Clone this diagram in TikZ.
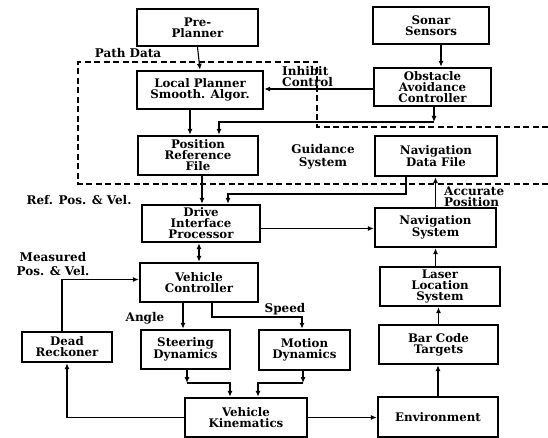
\documentclass[tikz,border=0pt]{standalone}
\usepackage{fontspec}
\setmainfont{DejaVu Serif}
\usetikzlibrary{arrows.meta}
\tikzset{
  box/.style={draw, line width=2.4pt, align=center, inner sep=1pt,
    font=\bfseries\fontsize{11.8}{11}\selectfont},
  lbl/.style={font=\bfseries\fontsize{12}{11}\selectfont, inner sep=0pt},
  arr/.style={line width=1.1pt, -{Latex[length=6pt,width=5pt]}},
  dbl/.style={line width=1.1pt, {Latex[length=6pt,width=5pt]}-{Latex[length=6pt,width=5pt]}},
  region/.style={line width=1.8pt, dash pattern=on 6pt off 3.5pt}
}
\begin{document}
\begin{tikzpicture}[x=1pt,y=-1pt]
\useasboundingbox (0,0) rectangle (548,438);
% boxes
\node[box, minimum width=121pt, minimum height=37pt] (pre) at (197.5,27.5) {Pre-\\Planner};
\node[box, minimum width=116pt, minimum height=37pt] (sonar) at (431,25.5) {Sonar\\Sensors};
\node[box, minimum width=126pt, minimum height=38pt] (lp) at (200,90) {Local Planner\\Smooth. Algor.};
\node[box, minimum width=117pt, minimum height=38pt] (oac) at (432.5,87) {Obstacle\\Avoidance\\Controller};
\node[box, minimum width=120pt, minimum height=39pt] (prf) at (198,155.5) {Position\\Reference\\File};
\node[box, minimum width=122pt, minimum height=40pt] (ndf) at (436,156) {Navigation\\Data File};
\node[box, minimum width=118pt, minimum height=37pt] (dip) at (201,223.5) {Drive\\Interface\\Processor};
\node[box, minimum width=121pt, minimum height=39pt] (ns) at (435.5,227.5) {Navigation\\System};
\node[box, minimum width=118pt, minimum height=39pt] (vc) at (199,282.5) {Vehicle\\Controller};
\node[box, minimum width=90pt, minimum height=30pt] (dr) at (67,347) {Dead\\Reckoner};
\node[box, minimum width=89pt, minimum height=39pt] (sd) at (185.5,349.5) {Steering\\Dynamics};
\node[box, minimum width=91pt, minimum height=40pt] (md) at (304.5,350) {Motion\\Dynamics};
\node[box, minimum width=120pt, minimum height=39pt] (lls) at (440,286.5) {Laser\\Location\\System};
\node[box, minimum width=119pt, minimum height=39pt] (bct) at (438.5,344.5) {Bar Code\\Targets};
\node[box, minimum width=122pt, minimum height=39pt] (vk) at (246,417.5) {Vehicle\\Kinematics};
\node[box, minimum width=120pt, minimum height=40pt] (env) at (438,417) {Environment};
% dashed region
\draw[region] (548,127) -- (317,127) -- (317,62) -- (78,62) -- (78,184) -- (548,184);
% labels
\node[lbl] (lpath) at (128,53) {Path Data};
\node[lbl, align=left, anchor=north west] (linh) at (282,66) {Inhibit\\Control};
\node[lbl, align=center, font=\bfseries\fontsize{12}{13}\selectfont] (lguid) at (323,157) {Guidance\\System};
\node[lbl] (lref) at (79,200) {Ref. Pos. \& Vel.};
\node[lbl, align=left, anchor=north west] (lacc) at (444,187) {Accurate\\Position};
\node[lbl, align=center, font=\bfseries\fontsize{12}{14}\selectfont] (lmeas) at (53,264) {Measured\\Pos. \& Vel.};
\node[lbl] (lang) at (145,318) {Angle};
\node[lbl] (lspd) at (285,309) {Speed};
% junctions
\coordinate (j1) at (434,122);
\coordinate (j2) at (228,194);
\coordinate (j3) at (302,317);
\coordinate (j4) at (187,383);
\coordinate (j5) at (303,383);
% connectors
\draw[arr] (pre.south) -- (lp.north);
\draw[arr] ([xshift=10pt]sonar.south) -- ([xshift=10pt]sonar.south |- oac.north);
\draw[arr] ([yshift=-2pt]oac.west) -- ([yshift=-2pt]oac.west -| lp.east);
\draw[arr] (oac.south -| j1) -- (j1);
\draw[arr] (j1) -| ([xshift=21pt]prf.north);
\draw[arr] ([xshift=-10pt]lp.south) -- ([xshift=-10pt]lp.south |- prf.north);
\draw[arr] ([xshift=4pt]prf.south) -- ([xshift=4pt]prf.south |- dip.north);
\draw[arr] ([xshift=-30pt]ndf.south) |- (j2) -- (j2 |- dip.north);
\draw[arr] ([yshift=-5pt]dip.east) -- ([yshift=-5pt]dip.east -| ns.west);
\draw[arr] (ns.north) -- (ns.north |- ndf.south);
\draw[dbl] ([xshift=-2pt]dip.south) -- ([xshift=-2pt]dip.south |- vc.north);
\draw[arr] ([xshift=-5pt]dr.north) |- ([yshift=3pt]vc.west);
\draw[arr] ([xshift=-16pt]vc.south) -- ([xshift=-16pt]vc.south |- sd.north);
\draw[arr] ([xshift=13pt]vc.south) |- (j3) -- (j3 |- md.north);
\draw[arr] (sd.south -| j4) -- (j4);
\draw[arr] (j4) -| ([xshift=-16pt]vk.north);
\draw[arr] (md.south -| j5) -- (j5);
\draw[arr] (j5) -| ([xshift=12pt]vk.north);
\draw[arr] (vk.west) -| (dr.south);
\draw[arr] (vk.east) -- (vk.east -| env.west);
\draw[arr] (env.north) -- (env.north |- bct.south);
\draw[arr] (bct.south |- bct.north) -- (bct.south |- lls.south);
\draw[arr] (ns.south |- lls.north) -- (ns.south);
\end{tikzpicture}
\end{document}
